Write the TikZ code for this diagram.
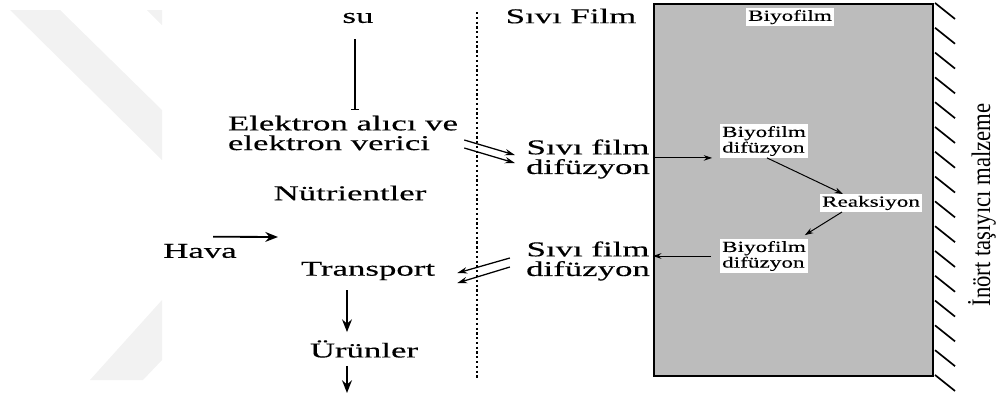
\documentclass[tikz,border=0pt]{standalone}
\usepackage{fontspec}
\setmainfont{Liberation Serif}
\newfontfamily\widefont[FakeStretch=1.65, FakeBold=0.3]{Liberation Serif}
\newfontfamily\smallwidefont[FakeStretch=1.5, FakeBold=0.2]{Liberation Serif}
\newfontfamily\narrowfont[FakeStretch=0.85]{Liberation Serif}
\usetikzlibrary{arrows.meta}
\definecolor{filmgray}{RGB}{188,188,188}
\definecolor{markgray}{RGB}{242,242,242}
\newcommand{\lblfont}{\widefont\fontsize{15}{14}\selectfont}
\newcommand{\boxfont}{\smallwidefont\fontsize{11}{9.4}\selectfont}

\begin{document}
\begin{tikzpicture}[x=0.025cm, y=-0.025cm,
    lbl/.style={font=\lblfont, inner sep=0pt, align=left},
    tag/.style={font=\boxfont, fill=white, inner sep=1.2pt, align=left},
    bigarrow/.style={line width=1.3pt, -{Stealth[length=9pt, width=7pt]}},
    duoarrow/.style={line width=0.9pt, -{Stealth[length=7pt, width=4.5pt]}},
    thinarrow/.style={line width=0.7pt, -{Stealth[length=6pt, width=4pt]}},
    filmbox/.style={draw=black, line width=1.4pt, fill=filmgray, minimum width=6.975cm, minimum height=9.3cm, inner sep=0pt},
    hatch/.style={line width=1.2pt}
  ]
  \useasboundingbox (0,0) rectangle (1000,396);

  % watermark
  \fill[markgray] (10,10) -- (60,10) -- (162,110) -- (162,160) -- cycle;
  \fill[markgray] (147,10) -- (162,10) -- (162,25) -- cycle;
  \fill[markgray] (162,300) -- (162,360) -- (143,380) -- (90,380) -- cycle;

  % left side
  \node[lbl] (su) at (358,18) {su};
  \node[lbl] (elek) at (343,133) {Elektron alıcı ve\\elektron verici};
  \node[lbl] (nutr) at (350,193) {Nütrientler};
  \node[lbl] (hava) at (200,251) {Hava};
  \node[lbl] (trans) at (368,271) {Transport};
  \node[lbl] (urun) at (364,349) {Ürünler};
  \coordinate (axis) at (347,0);
  \coordinate (out) at (347,393);
  \coordinate (havaend) at (278,237);

  % liquid film
  \node[lbl] (sfilm) at (571,16) {Sıvı Film};
  \node[lbl, align=center] (sf1) at (588,159) {Sıvı film\\difüzyon};
  \node[lbl, align=center] (sf2) at (588,261) {Sıvı film\\difüzyon};
  \draw[line width=1pt, dash pattern=on 1.6pt off 1.8pt] (477,12) -- (477,378);

  % biofilm
  \node[filmbox] (film) at (793.5,190) {};
  \foreach \k in {0,...,15}
    \draw[hatch] (film.north east) ++(1,\k*24.8) -- ++(20,16);
  \node[tag] (btop) at (790,17) {Biyofilm};
  \node[tag] (b1) at (764,141) {Biyofilm\\difüzyon};
  \node[tag] (reak) at (871,203) {Reaksiyon};
  \node[tag] (b2) at (764,256) {Biyofilm\\difüzyon};
  \node[font=\narrowfont\fontsize{19}{19}\selectfont, rotate=90, inner sep=0pt] (inert) at (982,205) {İnört taşıyıcı malzeme};

  % connectors
  \draw[line width=1.3pt, -{Bar[width=6pt]}, shorten <=0.4cm, shorten >=0.125cm]
    ([xshift=-0.075cm]su.south) -- ([xshift=-0.075cm]su.south |- elek.north);
  \draw[duoarrow] ([xshift=0.15cm, yshift=-0.175cm]elek.east) -- ([xshift=-0.275cm, yshift=0.1cm]sf1.west);
  \draw[duoarrow] ([xshift=0.15cm, yshift=-0.375cm]elek.east) -- ([xshift=-0.275cm, yshift=-0.1cm]sf1.west);
  \draw[duoarrow] ([xshift=-0.4cm, yshift=0.075cm]sf2.west) -- ([xshift=0.55cm, yshift=-0.05cm]trans.east);
  \draw[duoarrow] ([xshift=-0.4cm, yshift=-0.15cm]sf2.west) -- ([xshift=0.55cm, yshift=-0.3cm]trans.east);
  \draw[bigarrow] ([xshift=0.325cm, yshift=0.175cm]hava.north) -- (havaend);
  \draw[bigarrow, shorten <=0.25cm, shorten >=0.2cm] (axis |- trans.south) -- (axis |- urun.north);
  \draw[bigarrow, shorten <=0.2cm] (axis |- urun.south) -- (out);
  \draw[thinarrow, shorten >=0.2cm] (film.west |- b1.south west) -- (b1.south west);
  \draw[thinarrow] ([xshift=0.075cm]b1.south) -- ([xshift=-0.7cm]reak.north);
  \draw[thinarrow] ([xshift=-0.725cm]reak.south) -- ([xshift=-0.075cm, yshift=0.1cm]b2.north east);
  \draw[thinarrow, shorten <=0.225cm] (b2.west) -- (film.west |- b2.west);
\end{tikzpicture}
\end{document}
